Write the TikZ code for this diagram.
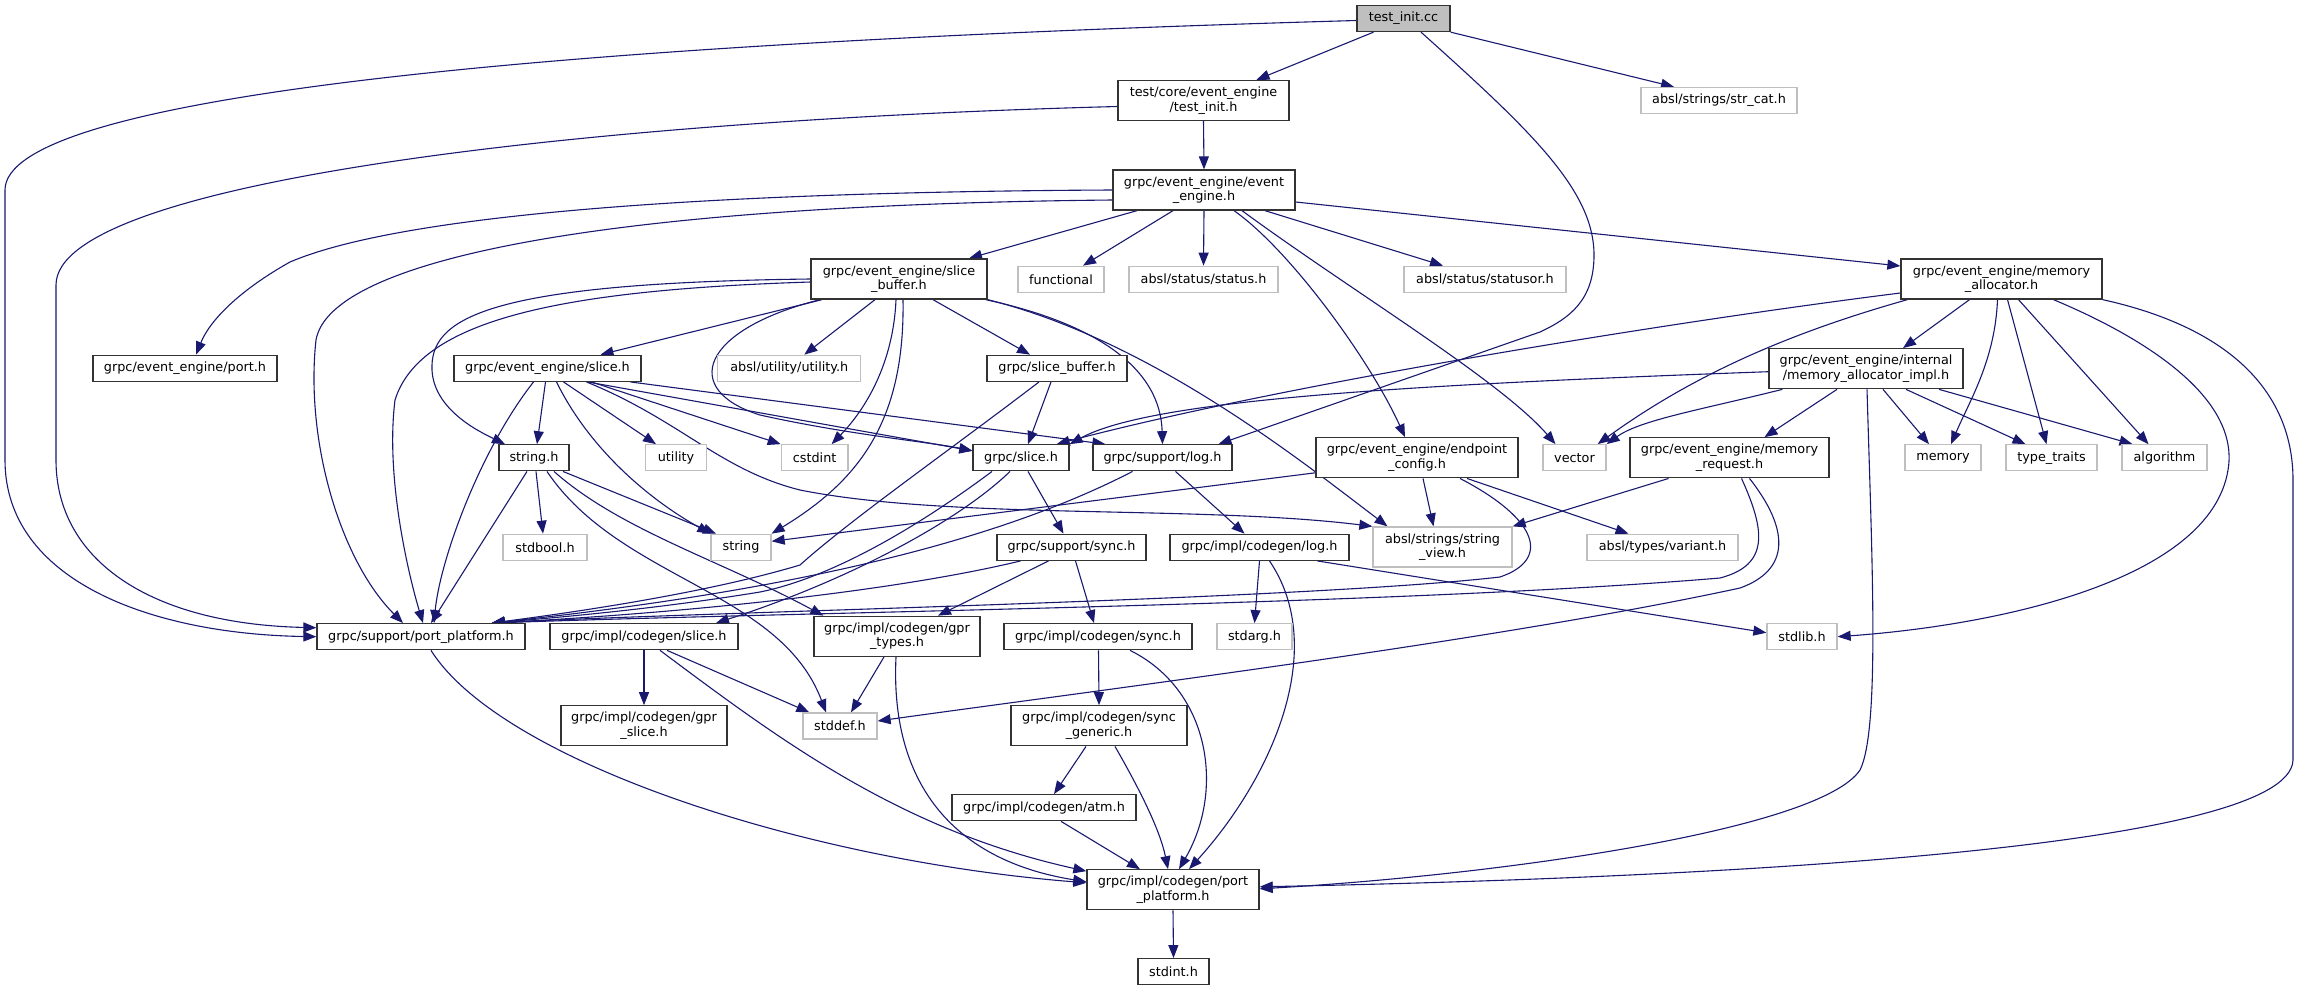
\documentclass[tikz,border=0pt]{standalone}
\usepackage{fontspec}
\setmainfont{DejaVu Sans}
\usetikzlibrary{arrows.meta,calc}
\definecolor{edgeblue}{HTML}{191970}
\definecolor{greyb}{HTML}{BFBFBF}
\pgfdeclarelayer{bg}
\pgfsetlayers{bg,main}
\newcommand\nfont{\fontsize{12.8}{14.6}\selectfont}
\tikzset{
  bk/.style={draw=black!80, line width=1.3pt, fill=white, inner sep=0pt, align=center, font=\nfont},
  gr/.style={draw=greyb, line width=1.3pt, fill=white, inner sep=0pt, align=center, font=\nfont},
  s1/.style={minimum height=26pt},
  s2/.style={minimum height=40pt},
  e/.style={draw=edgeblue, line width=1.1pt, -{Triangle[length=13pt,width=10pt]}},
}
\begin{document}
\begin{tikzpicture}[x=1pt,y=-1pt]
\useasboundingbox (0,0) rectangle (2304,991);
\node[bk,s1,fill=greyb,minimum width=93pt] (tc) at (1403.5,18.5) {test\_init.cc};
\node[bk,s2,minimum width=171pt] (ti) at (1203.5,100.5) {test/core/event\_engine\\/test\_init.h};
\node[gr,s1,minimum width=156pt] (sc) at (1719,100.5) {absl/strings/str\_cat.h};
\node[bk,s2,minimum width=182pt] (ee) at (1204,190) {grpc/event\_engine/event\\\_engine.h};
\node[bk,s2,minimum width=176pt] (sb) at (899,279) {grpc/event\_engine/slice\\\_buffer.h};
\node[gr,s1,minimum width=86pt] (fn) at (1061,279.3) {functional};
\node[gr,s1,minimum width=149pt] (st) at (1203.5,279.3) {absl/status/status.h};
\node[gr,s1,minimum width=162pt] (so) at (1485,279.3) {absl/status/statusor.h};
\node[bk,s2,minimum width=201pt] (ma) at (2001.5,279) {grpc/event\_engine/memory\\\_allocator.h};
\node[bk,s1,minimum width=184pt] (po) at (185,368.3) {grpc/event\_engine/port.h};
\node[bk,s1,minimum width=187pt] (es) at (547.5,368.3) {grpc/event\_engine/slice.h};
\node[gr,s1,minimum width=143pt] (uu) at (789.3,368.3) {absl/utility/utility.h};
\node[bk,s1,minimum width=140pt] (gsb) at (1057,368.3) {grpc/slice\_buffer.h};
\node[bk,s2,minimum width=194pt] (mai) at (1866,368.7) {grpc/event\_engine/internal\\/memory\_allocator\_impl.h};
\node[bk,s1,minimum width=70pt] (sh) at (534,457.8) {string.h};
\node[gr,s1,minimum width=61pt] (ut) at (676,457.8) {utility};
\node[gr,s1,minimum width=66.5pt] (cs) at (814.6,457.8) {cstdint};
\node[bk,s1,minimum width=96pt] (gs) at (1021,457.8) {grpc/slice.h};
\node[bk,s1,minimum width=139pt] (lg) at (1162.5,457.8) {grpc/support/log.h};
\node[bk,s2,minimum width=202pt] (ec) at (1417,457.8) {grpc/event\_engine/endpoint\\\_config.h};
\node[gr,s1,minimum width=63pt] (ve) at (1574.5,457.8) {vector};
\node[bk,s2,minimum width=199pt] (mr) at (1729.5,457.8) {grpc/event\_engine/memory\\\_request.h};
\node[gr,s1,minimum width=76pt] (me) at (1943,457.8) {memory};
\node[gr,s1,minimum width=91pt] (tt) at (2051.5,457.8) {type\_traits};
\node[gr,s1,minimum width=85pt] (al) at (2164.5,457.8) {algorithm};
\node[gr,s1,minimum width=84pt] (sbo) at (545,547.3) {stdbool.h};
\node[gr,s1,minimum width=60pt] (str) at (741,547.3) {string};
\node[bk,s1,minimum width=149pt] (ss) at (1071.5,547.3) {grpc/support/sync.h};
\node[bk,s1,minimum width=179pt] (cl) at (1259.5,547.3) {grpc/impl/codegen/log.h};
\node[gr,s2,minimum width=139pt] (sv) at (1442.5,547) {absl/strings/string\\\_view.h};
\node[gr,s1,minimum width=151pt] (va) at (1662.5,547.3) {absl/types/variant.h};
\node[bk,s1,minimum width=208pt] (pp) at (421,636.7) {grpc/support/port\_platform.h};
\node[bk,s1,minimum width=188pt] (cgs) at (644,636.7) {grpc/impl/codegen/slice.h};
\node[bk,s2,minimum width=166pt] (gt) at (897,636.3) {grpc/impl/codegen/gpr\\\_types.h};
\node[bk,s1,minimum width=188pt] (cy) at (1098,636.7) {grpc/impl/codegen/sync.h};
\node[gr,s1,minimum width=75pt] (sa) at (1254.5,636.7) {stdarg.h};
\node[gr,s1,minimum width=70pt] (sl) at (1802,636.7) {stdlib.h};
\node[bk,s2,minimum width=166pt] (gsl) at (644,725.8) {grpc/impl/codegen/gpr\\\_slice.h};
\node[gr,s1,minimum width=74pt] (sd) at (840,726) {stddef.h};
\node[bk,s2,minimum width=176pt] (sg) at (1099,725.8) {grpc/impl/codegen/sync\\\_generic.h};
\node[bk,s1,minimum width=184pt] (at) at (1044,807.7) {grpc/impl/codegen/atm.h};
\node[bk,s2,minimum width=172pt] (cp) at (1173,889.8) {grpc/impl/codegen/port\\\_platform.h};
\node[bk,s1,minimum width=71pt] (si) at (1173.5,971.7) {stdint.h};
\begin{pgfonlayer}{bg}
\fill[white] (0,0) rectangle (2304,991);
% test_init.cc
\draw[e] ($(tc.south)+(-30,0)$) -- ($(ti.north)+(53,0)$);
\draw[e] (tc.south east) -- ($(sc.north)+(-45,0)$);
\draw[e] ($(tc.west)+(0,2)$) .. controls (500,45) and (5,100) .. (5,190) -- (5,460) .. controls (5,580) and (150,634) .. (pp.west);
\draw[e] ($(tc.south)+(17.5,0)$) .. controls (1530,130) and (1594,190) .. (1594,255) .. controls (1594,300) and (1570,318) .. (1540,332) -- ($(lg.north)+(56,0)$);
% test_init.h
\draw[e] (ti.south) -- (ee.north);
\draw[e] ($(ti.west)+(0,6)$) .. controls (600,120) and (56,180) .. (56,285) -- (56,460) .. controls (56,560) and (150,624) .. ($(pp.west)+(0,-9)$);
% event_engine.h
\draw[e] ($(ee.south)+(-67,0)$) -- ($(sb.north)+(70,0)$);
\draw[e] ($(ee.south)+(-31,0)$) -- ($(fn.north)+(22,0)$);
\draw[e] (ee.south) -- (st.north);
\draw[e] ($(ee.south)+(61,0)$) -- ($(so.north)+(-42,0)$);
\draw[e] ($(ee.east)+(0,12)$) -- ($(ma.west)+(0,-13)$);
\draw[e] (ee.west) .. controls (700,192) and (400,215) .. (290,262) .. controls (240,290) and (210,320) .. ($(po.north)+(11,0)$);
\draw[e] ($(ee.west)+(0,10)$) .. controls (600,205) and (330,260) .. (316,340) .. controls (305,440) and (340,560) .. ($(pp.north)+(-18,0)$);
\draw[e] ($(ee.south)+(30,0)$) .. controls (1290,250) and (1370,360) .. ($(ec.north)+(-12,0)$);
\draw[e] ($(ee.south)+(38,0)$) .. controls (1350,290) and (1500,380) .. ($(ve.north)+(-19,0)$);
% slice_buffer.h (event_engine)
\draw[e] ($(sb.south)+(-77,0)$) -- ($(es.north)+(53,0)$);
\draw[e] ($(sb.south)+(-24,0)$) -- ($(uu.north)+(15,0)$);
\draw[e] ($(sb.south)+(34,0)$) -- ($(gsb.north)+(-27,0)$);
\draw[e] ($(sb.south)+(-3,0)$) .. controls (893,370) and (860,415) .. ($(cs.north)+(17,0)$);
\draw[e] ($(sb.south)+(4,0)$) .. controls (905,420) and (860,480) .. (str.north east);
\draw[e] ($(sb.south)+(-79,0)$) .. controls (700,330) and (680,390) .. (760,415) .. controls (850,435) and (930,442) .. ($(gs.west)+(0,-7)$);
\draw[e] ($(sb.south east)+(-2,0)$) .. controls (1080,320) and (1160,360) .. (lg.north);
\draw[e] (sb.south east) .. controls (1150,340) and (1300,460) .. ($(sv.north)+(-55,0)$);
\draw[e] (sb.west) .. controls (480,283) and (430,320) .. (432,370) .. controls (434,410) and (480,432) .. ($(sh.north)+(-29,0)$);
\draw[e] ($(sb.west)+(0,3)$) .. controls (560,290) and (420,320) .. (395,400) .. controls (385,480) and (410,580) .. ($(pp.north)+(2,0)$);
% event_engine/slice.h
\draw[e] ($(es.south)+(-2,0)$) -- ($(sh.north)+(3,0)$);
\draw[e] ($(es.south)+(-14,0)$) .. controls (480,450) and (440,560) .. ($(pp.north)+(13,0)$);
\draw[e] ($(es.south)+(9,0)$) .. controls (590,450) and (650,500) .. (str.north west);
\draw[e] ($(es.south)+(16,0)$) -- ($(ut.north)+(-20,0)$);
\draw[e] ($(es.south)+(44,0)$) -- (cs.north west);
\draw[e] ($(es.south)+(40,0)$) -- ($(gs.west)+(0,-7)$);
\draw[e] ($(es.south)+(83,0)$) -- ($(lg.north west)+(13,0)$);
\draw[e] ($(es.south)+(39,0)$) .. controls (680,420) and (720,470) .. (800,490) .. controls (950,520) and (1200,505) .. (sv.north west);
% grpc/slice_buffer.h
\draw[e] ($(gsb.south)+(-6,0)$) -- ($(gs.north)+(7,0)$);
\draw[e] ($(gsb.south)+(-18,0)$) .. controls (950,450) and (850,520) .. (800,565) .. controls (700,595) and (560,614) .. ($(pp.north east)+(-34,0)$);
% string.h
\draw[e] ($(sh.south)+(2,0)$) -- ($(sbo.north)+(-2,0)$);
\draw[e] ($(sh.south)+(-7,0)$) -- ($(pp.north)+(10,0)$);
\draw[e] ($(sh.south)+(29,0)$) -- ($(str.north)+(-25,0)$);
\draw[e] ($(sh.south)+(13,0)$) .. controls (620,580) and (780,590) .. ($(sd.north)+(-14,0)$);
\draw[e] ($(sh.south)+(20,0)$) .. controls (620,530) and (720,560) .. ($(gt.north west)+(10,0)$);
% grpc/slice.h
\draw[e] ($(gs.south)+(-29,0)$) .. controls (900,540) and (820,580) .. (760,592) .. controls (650,610) and (550,618) .. ($(pp.north east)+(-34,0)$);
\draw[e] ($(gs.south)+(7,0)$) -- ($(ss.north)+(-8,0)$);
\draw[e] ($(gs.south)+(-11,0)$) .. controls (960,520) and (850,580) .. ($(cgs.north)+(72,0)$);
% grpc/support/log.h
\draw[e] ($(lg.south)+(-30,0)$) .. controls (1000,540) and (800,590) .. ($(pp.north east)+(-34,0)$);
\draw[e] ($(lg.south)+(13,0)$) -- ($(cl.north)+(-15,0)$);
% endpoint_config.h
\draw[e] ($(ec.west)+(0,15)$) -- ($(str.east)+(0,-6)$);
\draw[e] ($(ec.south)+(6,0)$) -- ($(sv.north)+(-9,0)$);
\draw[e] ($(ec.south)+(50,0)$) -- ($(va.north)+(-34,0)$);
\draw[e] ($(ec.south)+(43,0)$) .. controls (1540,520) and (1550,560) .. (1500,577) .. controls (1300,600) and (700,612) .. ($(pp.north east)+(-34,0)$);
% memory_request.h
\draw[e] ($(mr.south)+(-61,0)$) -- (sv.north east);
\draw[e] ($(mr.south)+(12,0)$) .. controls (1765,530) and (1770,565) .. (1720,578) .. controls (1400,605) and (800,612) .. ($(pp.north east)+(-34,0)$);
\draw[e] ($(mr.south)+(20,0)$) .. controls (1790,530) and (1790,570) .. (1740,588) .. controls (1500,640) and (1100,690) .. ($(sd.east)+(0,-5)$);
% memory_allocator.h
\draw[e] ($(ma.west)+(0,14)$) .. controls (1700,318) and (1300,380) .. ($(gs.north east)+(-13,0)$);
\draw[e] ($(ma.south west)+(7,0)$) .. controls (1800,330) and (1700,370) .. ($(ve.north east)+(-9,0)$);
\draw[e] ($(ma.south)+(-32,0)$) -- ($(mai.north)+(37,0)$);
\draw[e] ($(ma.south)+(-4,0)$) .. controls (1995,360) and (1970,400) .. ($(me.north)+(8,0)$);
\draw[e] ($(ma.south)+(6,0)$) -- ($(tt.north)+(-5,0)$);
\draw[e] ($(ma.south)+(17,0)$) -- ($(al.north)+(-16,0)$);
\draw[e] ($(ma.south)+(52,0)$) .. controls (2150,340) and (2240,400) .. (2228,470) .. controls (2210,580) and (2000,625) .. (sl.east);
\draw[e] (ma.south east) .. controls (2240,330) and (2293,400) .. (2293,480) -- (2293,760) .. controls (2290,850) and (1700,878) .. ($(cp.east)+(0,-3)$);
% memory_allocator_impl.h
\draw[e] ($(mai.west)+(0,3)$) .. controls (1400,385) and (1150,400) .. (gs.north east);
\draw[e] ($(mai.south west)+(14,0)$) .. controls (1700,410) and (1640,420) .. (ve.north east);
\draw[e] ($(mai.south)+(-29,0)$) -- ($(mr.north)+(35,0)$);
\draw[e] ($(mai.south)+(17,0)$) -- ($(me.north)+(-14,0)$);
\draw[e] ($(mai.south)+(40,0)$) -- ($(tt.north)+(-26,0)$);
\draw[e] ($(mai.south)+(73,0)$) -- ($(al.north)+(-32,0)$);
\draw[e] ($(mai.south)+(1,0)$) .. controls (1872,560) and (1880,730) .. (1860,770) .. controls (1820,830) and (1500,875) .. ($(cp.east)+(0,-1)$);
% grpc/support/sync.h
\draw[e] ($(ss.south)+(-51,0)$) .. controls (900,590) and (700,612) .. ($(pp.north east)+(-34,0)$);
\draw[e] ($(ss.south)+(-23,0)$) -- ($(gt.north)+(41,0)$);
\draw[e] ($(ss.south)+(4,0)$) -- ($(cy.north)+(-4,0)$);
% codegen/log.h
\draw[e] (cl.south) -- (sa.north);
\draw[e] ($(cl.south)+(58,0)$) -- ($(sl.west)+(0,-4)$);
\draw[e] ($(cl.south)+(10,0)$) .. controls (1330,650) and (1270,780) .. ($(cp.north)+(16,0)$);
% gpr_types.h
\draw[e] ($(gt.south)+(-13,0)$) -- ($(sd.north)+(11,0)$);
\draw[e] ($(gt.south)+(-1,0)$) .. controls (890,780) and (950,860) .. ($(cp.west)+(0,-8)$);
% codegen/slice.h
\draw[e] (cgs.south) -- (gsl.north);
\draw[e] ($(cgs.south)+(23,0)$) -- ($(sd.north west)+(7,0)$);
\draw[e] ($(cgs.south)+(16,0)$) .. controls (780,740) and (900,830) .. ($(cp.north west)+(0,2)$);
% codegen/sync.h
\draw[e] ($(cy.south)+(0.5,0)$) -- (sg.north);
\draw[e] ($(cy.south)+(32,0)$) .. controls (1210,690) and (1225,790) .. ($(cp.north)+(6,0)$);
% sync_generic.h
\draw[e] ($(sg.south)+(-13,0)$) -- ($(at.north)+(10,0)$);
\draw[e] ($(sg.south)+(16,0)$) .. controls (1140,790) and (1160,830) .. ($(cp.north)+(-5,0)$);
% atm.h
\draw[e] ($(at.south)+(17,0)$) -- ($(cp.north)+(-33,0)$);
% support/port_platform.h
\draw[e] ($(pp.south)+(10,0)$) .. controls (500,760) and (800,860) .. ($(cp.west)+(0,-7)$);
% codegen/port_platform.h
\draw[e] (cp.south) -- (si.north);
\end{pgfonlayer}
\end{tikzpicture}
\end{document}
